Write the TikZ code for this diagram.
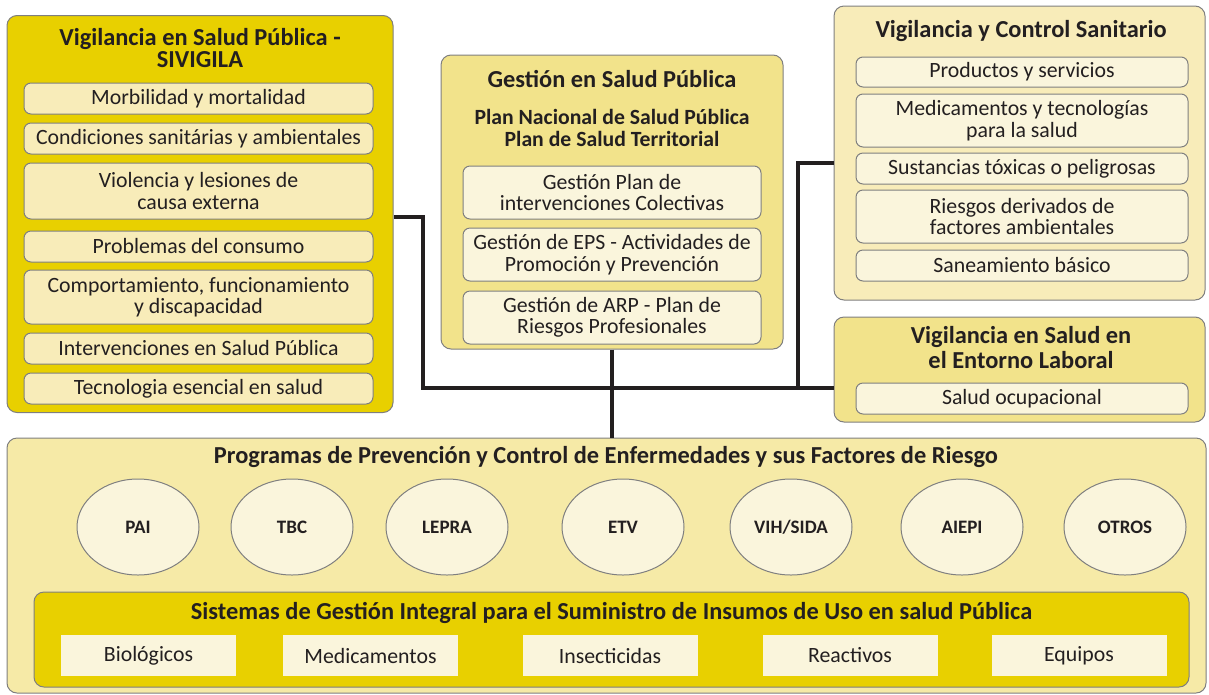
\documentclass[tikz,border=0pt]{standalone}
\usepackage{fontspec}
\setmainfont{Carlito}
\usetikzlibrary{shapes.geometric}
\definecolor{darkyel}{HTML}{E8D000}
\definecolor{midyel}{HTML}{F2E38B}
\definecolor{lightyel}{HTML}{F8ECB9}
\definecolor{baseyel}{HTML}{F6EAA7}
\definecolor{paleyel}{HTML}{FAF5DC}
\definecolor{edgegray}{HTML}{7F7F7F}
\definecolor{ink}{HTML}{231F20}
\begin{document}
\begin{tikzpicture}[x=1pt,y=-1pt]
\tikzstyle{grp}= [draw=edgegray,line width=1pt,rounded corners=10pt,inner sep=0pt]
\tikzstyle{item}= [draw=edgegray,line width=1pt,rounded corners=7pt,inner sep=0pt,align=center,text=ink,font=\fontsize{21.8}{21.5}\selectfont]
\tikzstyle{ttl}= [align=center,text=ink,font=\fontsize{24.4}{22}\selectfont\bfseries]
\tikzstyle{prog}= [ellipse,draw=edgegray,line width=1pt,fill=paleyel,minimum width=122pt,minimum height=96pt,inner sep=0pt,text=ink,font=\fontsize{19}{20}\selectfont\bfseries]
\tikzstyle{supply}= [fill=paleyel,minimum width=175pt,minimum height=41pt,inner sep=0pt,text=ink,font=\fontsize{21.8}{22}\selectfont]
\tikzstyle{link}= [line width=4pt,draw=ink]
\useasboundingbox (0,0) rectangle (1209,694);
% boxes
\path
	(200,214) node[grp,fill=darkyel,minimum width=386pt,minimum height=397pt] (vsp) {}
	(612,202) node[grp,fill=midyel,minimum width=342pt,minimum height=294pt] (gsp) {}
	(1019.5,153) node[grp,fill=lightyel,minimum width=371pt,minimum height=294pt] (vcs) {}
	(1019.5,369.5) node[grp,fill=midyel,minimum width=371pt,minimum height=105pt] (vel) {}
	(606.5,565.5) node[grp,fill=baseyel,minimum width=1199pt,minimum height=255pt] (ppc) {}
;
\path
	(200,48) node[ttl] (vsp-t) {Vigilancia en Salud Pública -\\SIVIGILA}
	(198.5,98.5) node[item,fill=lightyel,minimum width=349pt,minimum height=31pt] (vsp-1) {Morbilidad y mortalidad}
	(198.5,138.5) node[item,fill=lightyel,minimum width=349pt,minimum height=31pt] (vsp-2) {Condiciones sanitárias y ambientales}
	(198.5,191) node[item,fill=lightyel,minimum width=349pt,minimum height=56pt] (vsp-3) {Violencia y lesiones de\\causa externa}
	(198.5,246.5) node[item,fill=lightyel,minimum width=349pt,minimum height=31pt] (vsp-4) {Problemas del consumo}
	(198.5,297) node[item,fill=lightyel,minimum width=349pt,minimum height=54pt] (vsp-5) {Comportamiento, funcionamiento\\y discapacidad}
	(198.5,348.5) node[item,fill=lightyel,minimum width=349pt,minimum height=31pt] (vsp-6) {Intervenciones en Salud Pública}
	(198.5,388.5) node[item,fill=lightyel,minimum width=349pt,minimum height=31pt] (vsp-7) {Tecnologia esencial en salud}
;
\path
	(612,79) node[ttl] (gsp-t) {Gestión en Salud Pública}
	(612,128) node[ttl,font=\fontsize{21.7}{22}\selectfont\bfseries] (gsp-s) {Plan Nacional de Salud Pública\\Plan de Salud Territorial}
	(612,192.5) node[item,fill=paleyel,minimum width=298pt,minimum height=53pt] (gsp-1) {Gestión Plan de\\intervenciones Colectivas}
	(612,254.5) node[item,fill=paleyel,minimum width=298pt,minimum height=53pt] (gsp-2) {Gestión de EPS - Actividades de\\Promoción y Prevención}
	(612,317.5) node[item,fill=paleyel,minimum width=298pt,minimum height=53pt] (gsp-3) {Gestión de ARP - Plan de\\Riesgos Profesionales}
;
\path
	(1021,31) node[ttl] (vcs-t) {Vigilancia y Control Sanitario}
	(1022,72) node[item,fill=paleyel,minimum width=332pt,minimum height=30pt] (vcs-1) {Productos y servicios}
	(1022,120.5) node[item,fill=paleyel,minimum width=332pt,minimum height=53pt] (vcs-2) {Medicamentos y tecnologías\\para la salud}
	(1022,168.5) node[item,fill=paleyel,minimum width=332pt,minimum height=31pt] (vcs-3) {Sustancias tóxicas o peligrosas}
	(1022,216.5) node[item,fill=paleyel,minimum width=332pt,minimum height=53pt] (vcs-4) {Riesgos derivados de\\factores ambientales}
	(1022,265.5) node[item,fill=paleyel,minimum width=332pt,minimum height=31pt] (vcs-5) {Saneamiento básico}
;
\path
	(1021,347.5) node[ttl,font=\fontsize{24.4}{25}\selectfont\bfseries] (vel-t) {Vigilancia en Salud en\\el Entorno Laboral}
	(1022,398.5) node[item,fill=paleyel,minimum width=332pt,minimum height=31pt] (vel-1) {Salud ocupacional}
;
% programas
\path
	(606,457) node[ttl] (ppc-t) {Programas de Prevención y Control de Enfermedades y sus Factores de Riesgo}
	(138,527) node[prog] (pai) {PAI}
	(292,527) node[prog] (tbc) {TBC}
	(447,527) node[prog] (lepra) {LEPRA}
	(623,527) node[prog] (etv) {ETV}
	(791,527) node[prog] (vih) {VIH/SIDA}
	(962,527) node[prog] (aiepi) {AIEPI}
	(1125,527) node[prog] (otros) {OTROS}
;
\path
	(611.5,639.5) node[grp,fill=darkyel,minimum width=1155pt,minimum height=95pt] (sgi) {}
	(611.5,613) node[ttl] (sgi-t) {Sistemas de Gestión Integral para el Suministro de Insumos de Uso en salud Pública}
	(148.5,655.5) node[supply] (bio) {Biológicos}
	(370.5,655.5) node[supply] (med) {Medicamentos}
	(610,655.5) node[supply] (ins) {Insecticidas}
	(850,655.5) node[supply] (rea) {Reactivos}
	(1079,655.5) node[supply] (equ) {Equipos}
;
\coordinate (j1) at (423,388);
\coordinate (j3) at (798,388);
\coordinate (j4) at (798,163);
\draw[link] ([yshift=-3pt]vsp.east) -| (j1) -- (vel.west |- j1);
\draw[link] (j3) -- (j4) -- (vcs.west |- j4);
\draw[link] (gsp.south) -- (ppc.north -| gsp.south);
\end{tikzpicture}
\end{document}
